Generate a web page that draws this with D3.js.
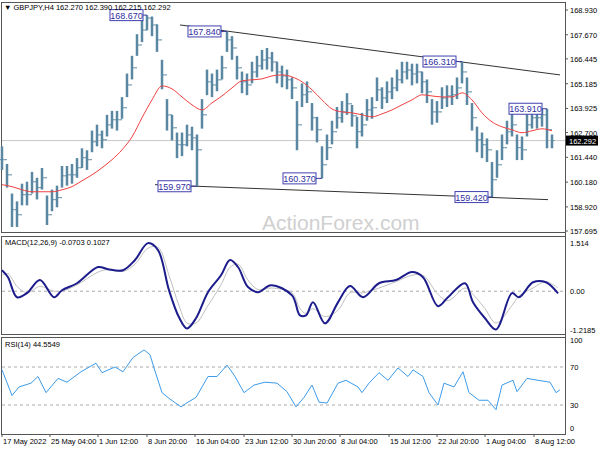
<!DOCTYPE html>
<html><head><meta charset="utf-8">
<script src="https://cdn.jsdelivr.net/npm/d3@7"></script>
<style>
body { margin: 0; background: #fff; }
text { font-family: "Liberation Sans", sans-serif; font-size: 7.5px; fill: #000; }
</style></head>
<body><svg id="chart" width="600" height="450"></svg>
<script>
// GBPJPY H4, each entry ~ a group of H4 bars
const closes = [161.32,160.55,158.78,158.52,159.54,159.54,160.20,159.90,160.40,158.52,159.29,159.39,160.50,160.55,160.55,160.91,161.42,161.32,162.23,162.58,162.33,163.09,163.35,163.35,163.96,165.12,165.99,167.15,167.91,168.52,168.17,167.41,165.63,163.60,162.94,162.08,162.08,162.58,162.43,161.82,163.60,165.28,165.12,165.38,165.99,167.41,167.00,165.99,165.28,165.12,165.78,166.09,166.39,166.49,166.29,165.78,165.58,165.38,164.97,163.09,164.62,164.77,163.45,162.84,161.06,161.93,162.74,163.45,163.75,164.16,163.55,162.74,163.09,163.85,163.96,164.87,164.46,164.77,164.97,165.38,165.78,165.88,165.68,165.78,165.28,164.77,163.75,163.75,164.46,164.56,164.62,164.97,165.78,164.77,163.45,162.33,162.08,161.82,160.30,161.06,161.93,162.74,163.09,161.93,161.82,163.09,163.45,163.45,163.60,162.84,162.292];
const highs = [162.0,161.1,159.6,159.2,160.1,160.2,160.7,160.4,160.9,159.5,159.8,160.0,161.0,161.0,161.1,161.4,161.9,161.8,162.8,163.1,162.8,163.6,163.8,163.8,164.5,165.7,166.6,167.7,168.4,168.67,168.6,168.2,166.4,164.4,163.6,162.7,162.7,163.1,163.0,162.6,164.4,165.9,165.7,165.9,166.6,167.84,167.6,166.6,165.8,165.7,166.3,166.6,166.9,167.0,166.8,166.3,166.1,165.9,165.5,164.3,165.2,165.3,164.2,163.5,162.0,162.6,163.3,164.0,164.3,164.7,164.1,163.5,163.7,164.4,164.5,165.5,165.0,165.3,165.5,165.9,166.3,166.3,166.2,166.2,165.8,165.4,164.4,164.3,165.0,165.1,165.1,165.5,166.31,165.5,164.2,163.0,162.7,162.4,161.2,161.8,162.6,163.3,163.91,162.6,162.5,163.7,164.0,163.9,163.9,163.91,162.6];
const lows = [160.8,159.9,157.9,157.9,159.0,159.0,159.6,159.3,159.8,158.0,158.7,158.9,159.9,160.0,160.1,160.4,160.9,160.8,161.7,162.0,161.9,162.5,162.9,162.8,163.4,164.5,165.4,166.6,167.3,167.9,167.6,166.8,164.9,162.8,162.3,161.4,161.5,162.0,161.8,159.97,162.9,164.6,164.5,164.8,165.4,166.8,166.4,165.4,164.7,164.6,165.2,165.5,165.9,165.9,165.8,165.2,165.0,164.9,164.4,161.8,164.0,164.2,162.8,162.2,160.37,161.3,162.1,162.9,163.2,163.6,163.0,161.9,162.5,163.3,163.4,164.3,163.9,164.2,164.4,164.8,165.2,165.4,165.1,165.2,164.7,164.2,163.1,163.2,163.9,164.0,164.1,164.4,165.2,164.1,162.8,161.7,161.4,161.2,159.42,160.4,161.3,162.1,162.5,161.3,161.3,162.5,162.9,162.9,163.0,161.9,161.9];
// moving average, one value every 2 entries
const maValues = [160.05,159.95,159.79,159.69,159.69,159.69,159.79,159.95,160.25,160.55,160.91,161.32,161.82,162.48,163.45,164.36,165.07,164.92,164.51,164.11,163.85,164.21,164.56,164.97,165.33,165.38,165.43,165.58,165.63,165.53,165.28,164.87,164.36,163.90,163.75,163.70,163.60,163.50,163.65,163.85,164.11,164.36,164.62,164.56,164.51,164.51,164.72,164.36,163.70,163.24,162.99,162.84,162.69,162.79,162.89,162.79];
const macdAt = [0,1.2,3,5,7.6,10.4,12,15,19.2,21.2,24.2,26.6,29.2,31.2,33.4,35.4,37,38.8,41.2,43.8,45.6,47.2,49.2,51.2,53.8,58,59.6,60.8,62.2,64.6,67.2,69.6,72.2,75.4,78.8,82,84.2,87.2,89.2,92.6,94.2,96.6,98.8,102,103.4,106.2,108.8,111.2];
const macdValues = [0.66,0.44,-0.19,-0.06,0.35,-0.19,0.03,0.25,0.76,0.69,0.66,0.98,1.51,1.29,0.03,-0.82,-1.17,-0.85,-0.03,0.50,0.98,0.76,0.13,-0.03,0.19,-0.13,-0.76,-0.76,-0.35,-1.01,-0.35,0.16,-0.19,0.25,0.35,0.60,0.44,-0.47,-0.19,0.25,-0.35,-0.85,-1.20,-0.06,-0.19,0.28,0.28,-0.07];
const signalValues = [0.5,0.55,0.15,-0.05,0.15,0.0,0.0,0.2,0.6,0.68,0.62,0.85,1.35,1.38,0.5,-0.45,-1.0,-1.0,-0.45,0.2,0.75,0.85,0.35,0.05,0.1,-0.05,-0.55,-0.7,-0.55,-0.8,-0.6,-0.05,-0.05,0.1,0.3,0.5,0.5,-0.1,-0.3,0.1,-0.1,-0.55,-1.0,-0.45,-0.15,0.1,0.3,0.1];
const rsiAt = [0,2,3.4,5.8,7.2,8.8,11.2,13,15.8,18.8,20,22.6,24.2,26.2,28.4,29.6,30.4,32,33.4,35.8,37.2,38.8,41.2,43,45,46.6,48.4,50.4,52.6,55,57,58.8,60.4,62,63.4,65,67.2,68.8,71.2,72,73.4,75.4,77.2,79.2,81.2,82.2,84.2,85.4,87.2,88.4,90.4,92.2,93.4,95.4,97.2,98.8,100,102.2,103,105,107.2,109.6,110.8,111.6];
const rsiValues = [67,40,49,53,60,43,58,54,65,74,64,70,65,80,88,83,69,43,37,28,33,38,60,60,72,60,43,51,54,53,44,28,38,51,33,32,53,56,49,43,53,64,56,69,60,67,60,43,30,53,49,65,43,35,35,25,51,56,44,58,56,54,43,46];
const priceTicks = [168.930,167.670,166.445,165.185,163.925,162.700,161.440,160.180,158.920,157.695];
const timeLabels = ["17 May 2022","25 May 04:00","1 Jun 12:00","8 Jun 20:00","16 Jun 04:00","23 Jun 12:00","30 Jun 20:00","8 Jul 04:00","15 Jul 12:00","22 Jul 20:00","1 Aug 04:00","8 Aug 12:00"];
const timeAt = [0,9.6,19.2,29,38.6,48.4,58,67.6,77.4,87,96.6,106.4];
// [label, bar index of the extreme, price, box left index]
const pivots = [
  ["168.670", 29, 168.67, 21.6],
  ["167.840", 45, 167.84, 37.2],
  ["159.970", 39, 159.97, 31.2],
  ["160.370", 64, 160.37, 56.2],
  ["166.310", 92, 166.31, 84.2],
  ["159.420", 98, 159.42, 90.6],
  ["163.910", 109, 163.91, 101.4]
];
const upperLine = [[35.6, 168.17], [111.6, 165.63]];
const lowerLine = [[30.6, 160.05], [109.2, 159.29]];

const svg = d3.select('#chart');
const plotRight = 565;
const x = d3.scaleLinear().domain([-0.4, 112.6]).range([0, plotRight]);
const yMain = d3.scaleLinear().domain([157.695, 168.930]).range([231, 10]);
const yMacd = d3.scaleLinear().domain([-1.2185, 1.514]).range([330, 243]);
const yRsi = d3.scaleLinear().domain([0, 100]).range([433.5, 338.5]);

// panel frames
[[1, 2, 232], [1, 236, 334], [1, 337, 434]].forEach(([x0, y0, y1]) => {
    svg.append('rect').attr('x', x0 + 0.5).attr('y', y0 + 0.5)
        .attr('width', plotRight - x0).attr('height', y1 - y0)
        .attr('fill', 'none').attr('stroke', '#555');
});

// watermark
svg.append('text').attr('x', 262).attr('y', 230)
    .style('font-size', '21px').style('fill', '#d0d0d0').text('ActionForex.com');

// current price line
svg.append('line').attr('x1', 2).attr('x2', plotRight)
    .attr('y1', yMain(162.292)).attr('y2', yMain(162.292))
    .attr('stroke', '#c8c8c8');

// trendlines
[upperLine, lowerLine].forEach(l => {
    svg.append('line')
        .attr('x1', x(l[0][0])).attr('y1', yMain(l[0][1]))
        .attr('x2', x(l[1][0])).attr('y2', yMain(l[1][1]))
        .attr('stroke', '#333').attr('stroke-width', 1);
});

// price bars
const barColor = '#5a88a2';
const bars = svg.append('g').attr('stroke', barColor);
closes.forEach((c, i) => {
    const open = i > 0 ? closes[i - 1] : c;
    bars.append('line').attr('x1', x(i)).attr('x2', x(i))
        .attr('y1', yMain(highs[i])).attr('y2', yMain(lows[i])).attr('stroke-width', 2.5);
    bars.append('line').attr('x1', x(i) - 2.5).attr('x2', x(i))
        .attr('y1', yMain(open)).attr('y2', yMain(open));
    bars.append('line').attr('x1', x(i)).attr('x2', x(i) + 2.5)
        .attr('y1', yMain(c)).attr('y2', yMain(c));
});

// moving average
svg.append('path').datum(maValues)
    .attr('d', d3.line().x((d, k) => x(k * 2)).y(d => yMain(d)).curve(d3.curveMonotoneX))
    .attr('fill', 'none').attr('stroke', '#f04040').attr('stroke-width', 1);

// pivot labels
pivots.forEach(([label, at, price, boxAt]) => {
    const by = yMain(price);
    const bx = x(boxAt);
    svg.append('line').attr('x1', bx).attr('x2', x(at)).attr('y1', by).attr('y2', by)
        .attr('stroke', '#3a3a9a');
    svg.append('rect').attr('x', bx).attr('y', by - 5.5).attr('width', 33).attr('height', 11)
        .attr('fill', '#fff').attr('stroke', '#4040b0');
    svg.append('text').attr('x', bx + 16.5).attr('y', by + 3.5).attr('text-anchor', 'middle')
        .style('font-size', '9px').style('fill', '#3030a0').text(label);
});

// header
svg.append('text').attr('x', 4).attr('y', 10).text('▼ GBPJPY,H4  162.270 162.390 162.215 162.292');

// right price axis
const axisG = svg.append('g');
axisG.append('line').attr('x1', plotRight + 0.5).attr('x2', plotRight + 0.5)
    .attr('y1', 2).attr('y2', 434).attr('stroke', '#555');
priceTicks.forEach(p => {
    axisG.append('line').attr('x1', plotRight).attr('x2', plotRight + 3)
        .attr('y1', yMain(p)).attr('y2', yMain(p)).attr('stroke', '#555');
    axisG.append('text').attr('x', 570).attr('y', yMain(p) + 3).text(p.toFixed(3));
});
axisG.append('rect').attr('x', 566).attr('y', yMain(162.292) - 5).attr('width', 32).attr('height', 10)
    .attr('fill', '#000');
axisG.append('text').attr('x', 569).attr('y', yMain(162.292) + 3).style('fill', '#fff').text('162.292');

// MACD
svg.append('line').attr('x1', 2).attr('x2', plotRight).attr('y1', yMacd(0)).attr('y2', yMacd(0))
    .attr('stroke', '#aaa').attr('stroke-dasharray', '3,3');
const macdLine = d3.line().x((d, k) => x(macdAt[k])).y(d => yMacd(d)).curve(d3.curveCatmullRom);
svg.append('path').datum(signalValues).attr('d', macdLine)
    .attr('fill', 'none').attr('stroke', '#c0c0c0').attr('stroke-width', 1);
svg.append('path').datum(macdValues).attr('d', macdLine)
    .attr('fill', 'none').attr('stroke', '#1c1c8c').attr('stroke-width', 2);
svg.append('text').attr('x', 5).attr('y', 245).text('MACD(12,26,9) -0.0703 0.1027');
[[1.514, '1.514'], [0, '0.00'], [-1.2185, '-1.2185']].forEach(([v, t]) => {
    svg.append('text').attr('x', 570).attr('y', yMacd(v) + 3).text(t);
});

// RSI
[70, 30].forEach(v => {
    svg.append('line').attr('x1', 2).attr('x2', plotRight).attr('y1', yRsi(v)).attr('y2', yRsi(v))
        .attr('stroke', '#aaa').attr('stroke-dasharray', '3,3');
});
svg.append('path').datum(rsiValues)
    .attr('d', d3.line().x((d, k) => x(rsiAt[k])).y(d => yRsi(d)))
    .attr('fill', 'none').attr('stroke', '#3d9be9').attr('stroke-width', 1);
svg.append('text').attr('x', 5).attr('y', 347).text('RSI(14) 44.5549');
[[100, 343], [70, 370], [30, 408], [0, 431]].forEach(([v, yy]) => {
    svg.append('text').attr('x', 570).attr('y', yy).text(v);
});

// time axis
timeAt.forEach((t, k) => {
    svg.append('line').attr('x1', x(t)).attr('x2', x(t)).attr('y1', 434).attr('y2', 437)
        .attr('stroke', '#555');
    svg.append('text').attr('x', x(t) + 1).attr('y', 444).text(timeLabels[k]);
});
</script></body></html>
